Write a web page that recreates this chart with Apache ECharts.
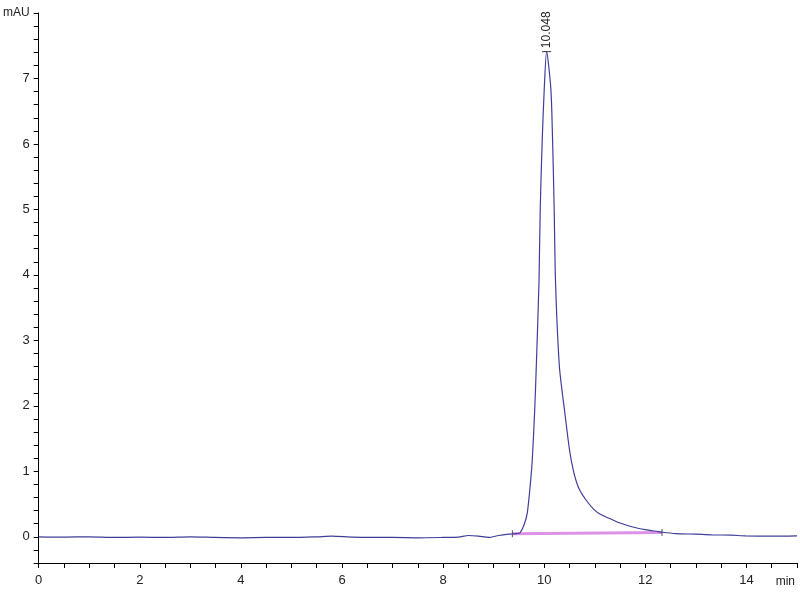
<!DOCTYPE html>
<html>
<head>
<meta charset="utf-8">
<script src="https://cdn.jsdelivr.net/npm/echarts@6/dist/echarts.min.js"></script>
<style>html,body{margin:0;padding:0;background:#fff}#c{width:800px;height:600px}</style>
</head>
<body>
<div id="c"></div>
<script>
// Retention time (min)
var times = [0, 0.5, 1.0, 1.5, 2.0, 2.5, 3.0, 3.5, 4.0, 4.5, 5.0, 5.5, 5.8, 6.2, 6.6, 7.0, 7.5, 8.0, 8.3, 8.5, 8.7, 8.9, 9.1, 9.3, 9.45, 9.52,
  9.60, 9.666, 9.733, 9.764, 9.812, 9.843, 9.896, 9.922, 9.961, 10.00, 10.047,
  10.132, 10.165, 10.196, 10.224, 10.30, 10.40, 10.50, 10.58, 10.68, 10.82, 10.98, 11.12, 11.35, 11.50, 11.75, 12.00, 12.25, 12.33,
  12.6, 13.0, 13.31, 13.7, 13.98, 14.5, 15.0];
// Absorbance (mAU)
var signal = [0.0, -0.005, 0.0, -0.01, -0.005, -0.01, 0.0, -0.01, -0.015, -0.01, -0.01, 0.0, 0.01, -0.005, -0.01, -0.01, -0.015, -0.01, -0.005, 0.02, 0.01, -0.01, 0.02, 0.04, 0.05, 0.06,
  0.18, 0.37, 0.87, 1.18, 1.94, 2.60, 3.88, 5.04, 6.07, 6.83, 7.41,
  6.83, 6.07, 5.04, 3.88, 2.60, 1.94, 1.33, 1.00, 0.75, 0.57, 0.42, 0.34, 0.26, 0.21, 0.15, 0.11, 0.08, 0.07,
  0.05, 0.04, 0.03, 0.025, 0.015, 0.01, 0.015];
// Integration baseline
var baseTimes = [9.37, 12.33];
var baseValues = [0.046, 0.066];
// Peak annotation
var peakTime = 10.047;
var peakValue = 7.41;
var peakLabel = '10.048';
// Axis tick labels
var xTickLabels = [0, 2, 4, 6, 8, 10, 12, 14];
var yTickLabels = [0, 1, 2, 3, 4, 5, 6, 7];

var FONT = '"Liberation Sans Narrow", "Liberation Sans", Arial, sans-serif';
var chart = echarts.init(document.getElementById('c'), null, {renderer: 'canvas'});
var mainData = times.map(function (t, i) { return [t, signal[i]]; });
var baseData = baseTimes.map(function (t, i) { return [t, baseValues[i]]; });

function isTick(v, list) {
  for (var i = 0; i < list.length; i++) { if (Math.abs(v - list[i]) < 1e-6) return true; }
  return false;
}

chart.setOption({
  animation: false,
  backgroundColor: '#fff',
  grid: {left: 35, right: 1, top: 13, bottom: 37, containLabel: false},
  xAxis: {
    type: 'value', min: 0, max: 15, interval: 0.5,
    name: 'min', nameLocation: 'end', nameGap: 0,
    nameTextStyle: {color: '#222', fontFamily: FONT, fontSize: 12, align: 'right', verticalAlign: 'top', padding: [13, 2, 0, 0]},
    axisLine: {show: true, onZero: false, lineStyle: {color: '#000', width: 1}},
    axisTick: {show: true, length: 5, lineStyle: {color: '#000'}},
    axisLabel: {
      color: '#222', fontFamily: FONT, fontSize: 13, margin: 11,
      formatter: function (v) { return isTick(v, xTickLabels) ? String(Math.round(v)) : ''; }
    },
    splitLine: {show: false}
  },
  yAxis: {
    type: 'value', min: -0.4, max: 8, interval: 0.2,
    name: 'mAU', nameLocation: 'end', nameGap: 0,
    nameTextStyle: {color: '#222', fontFamily: FONT, fontSize: 12, align: 'right', verticalAlign: 'middle', padding: [0, 9, 0, 0]},
    axisLine: {show: true, onZero: false, lineStyle: {color: '#000', width: 1}},
    axisTick: {show: true, length: 5, lineStyle: {color: '#000'}},
    axisLabel: {
      color: '#222', fontFamily: FONT, fontSize: 13, margin: 9,
      formatter: function (v) { return isTick(v, yTickLabels) ? String(Math.round(v)) : ''; }
    },
    splitLine: {show: false}
  },
  series: [
    {
      type: 'line', data: baseData, z: 1,
      symbol: 'rect', symbolSize: [1, 7], showSymbol: true,
      itemStyle: {color: '#555'},
      lineStyle: {color: '#dd92e6', width: 3}
    },
    {
      type: 'line', data: mainData, z: 2,
      showSymbol: false, symbol: 'none', smooth: 0.25,
      lineStyle: {color: '#3e3e9a', width: 1.2},
      markPoint: {
        symbol: 'rect', symbolSize: [9, 1],
        itemStyle: {color: '#333'},
        label: {
          show: true, position: 'top', distance: 3, rotate: 90,
          align: 'left', verticalAlign: 'middle',
          color: '#222', fontFamily: FONT, fontSize: 12,
          formatter: function () { return peakLabel; }
        },
        data: [{coord: [peakTime, peakValue]}]
      }
    }
  ]
});
</script>
</body>
</html>
